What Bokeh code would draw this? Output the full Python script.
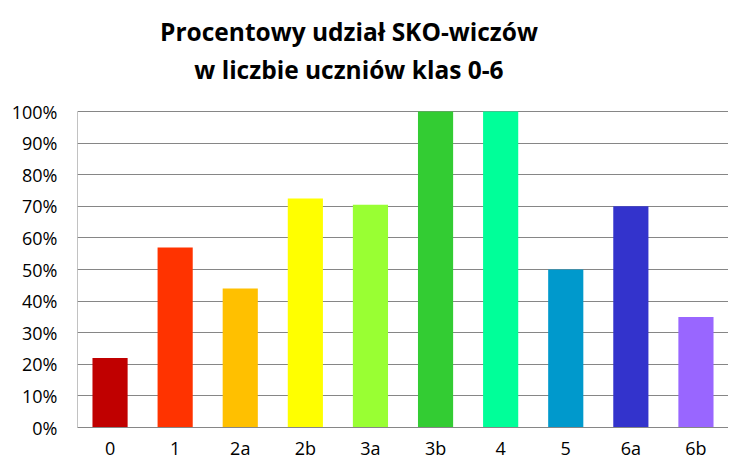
from bokeh.plotting import figure
from bokeh.models import Range1d, NumeralTickFormatter, FixedTicker, Span
from bokeh.core.properties import value
from bokeh.embed import file_html
from bokeh.resources import INLINE

categories = ["0", "1", "2a", "2b", "3a", "3b", "4", "5", "6a", "6b"]
values = [0.22, 0.57, 0.44, 0.725, 0.705, 1.0, 1.0, 0.50, 0.70, 0.35]
colors = ["#C00000", "#FF3300", "#FFC000", "#FFFF00", "#99FF33",
          "#33CC33", "#00FF99", "#0099CC", "#3333CC", "#9966FF"]
y_ticks = [0, 0.1, 0.2, 0.3, 0.4, 0.5, 0.6, 0.7, 0.8, 0.9, 1.0]
title_lines = ["Procentowy udział SKO-wiczów", "w liczbie uczniów klas 0-6"]

FONT = "Open Sans"
GRAY = "#868686"

W, H = 728, 460
# frame covers the whole figure height; 316 px correspond to 100 %
PX = 316.0
ZERO = 427.0          # pixel row of the 0 % line
y_lo = -(H - ZERO) / PX
y_hi = 1.0 + (ZERO - PX) / PX


def row(pix):
    """data y for a pixel row of the figure"""
    return (ZERO - pix) / PX


p = figure(x_range=categories, y_range=Range1d(y_lo, y_hi),
           width=W, height=H, output_backend="svg",
           toolbar_location=None, x_axis_location=None,
           min_border_left=77, min_border_right=0,
           min_border_top=0, min_border_bottom=0)
p.outline_line_color = None

p.vbar(x=categories, top=values, width=0.54, color=colors, line_color=None)

# category labels under the bars
p.text(x=categories, y=[row(447.5)] * len(categories), text=categories,
       text_align="center", text_baseline="middle",
       text_font=value(FONT), text_font_size=value("18px"), text_color="#000000")

# two-line centred title
p.text(x=[4.17, 4.17], y=[row(31), row(68.5)], text=title_lines,
       text_align="center", text_baseline="middle",
       text_font=value(FONT), text_font_size=value("24.5px"),
       text_font_style="bold", text_color="#000000")

# axis lines: left from 0 % to 100 %, bottom over the bars
p.segment(x0=[0], y0=[0], x1=[0], y1=[1.0], line_color=GRAY, line_width=1)
p.add_layout(Span(location=0, dimension="width", line_color=GRAY, line_width=1))

p.yaxis.ticker = FixedTicker(ticks=y_ticks)
p.yaxis.formatter = NumeralTickFormatter(format="0%")
ax = p.yaxis[0]
ax.major_label_text_font = FONT
ax.major_label_text_font_size = "18px"
ax.major_label_text_color = "#000000"
ax.axis_line_color = None
ax.major_tick_line_color = None
ax.minor_tick_line_color = None
ax.major_tick_out = 0
ax.major_tick_in = 0
ax.minor_tick_out = 0
ax.minor_tick_in = 0
ax.major_label_standoff = 20

p.xgrid.grid_line_color = None
p.ygrid.grid_line_color = GRAY
p.ygrid.grid_line_width = 1

open("out.html", "w").write(file_html(p, INLINE))
